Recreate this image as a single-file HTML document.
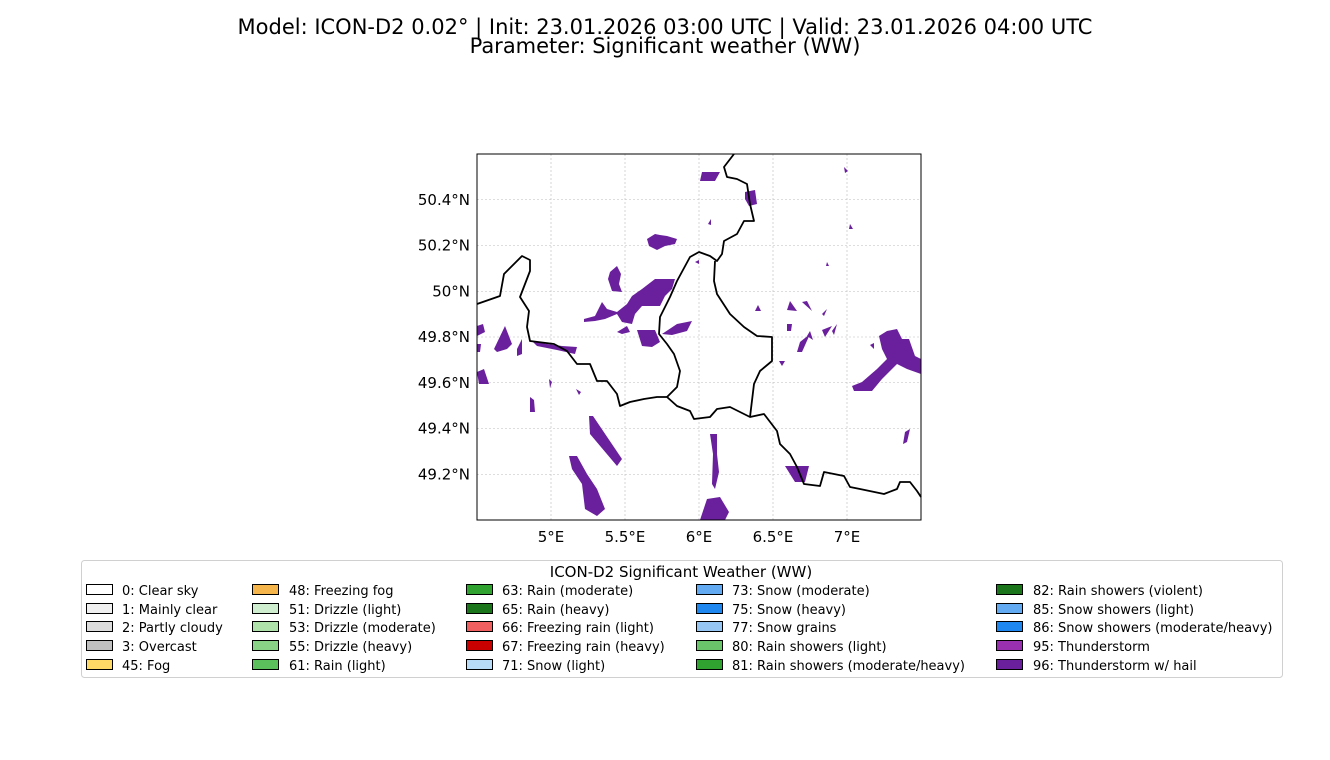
<!DOCTYPE html>
<html><head><meta charset="utf-8"><style>
body{margin:0;background:#fff;font-family:"Liberation Sans","DejaVu Sans",sans-serif;}
#root{position:relative;width:1330px;height:760px;overflow:hidden;}
</style></head><body>
<div id="root">
<svg id="svg" width="1330" height="760" style="position:absolute;left:0;top:0;font-family:'DejaVu Sans','Liberation Sans',sans-serif">
<text x="665" y="34" text-anchor="middle" font-size="21">Model: ICON-D2 0.02° | Init: 23.01.2026 03:00 UTC | Valid: 23.01.2026 04:00 UTC</text>
<text x="665" y="53" text-anchor="middle" font-size="21">Parameter: Significant weather (WW)</text>
<g id="map"></g>
<g id="legend"></g>
</svg>
</div>
<script>
const lonTicks=[5,5.5,6,6.5,7];
const lonLabels=["5°E","5.5°E","6°E","6.5°E","7°E"];
const latTicks=[49.2,49.4,49.6,49.8,50.0,50.2,50.4];
const latLabels=["49.2°N","49.4°N","49.6°N","49.8°N","50°N","50.2°N","50.4°N"];
const borderMain=[[0,150],[23,142],[27,120],[45,102],[53,106],[53,117],[43,143],[52,157],[50,173],[53,187],[77,190],[90,197],[100,210],[113,210],[120,227],[130,227],[140,240],[143,252],[153,248],[167,245],[180,243],[190,243],[200,252],[213,257],[217,265],[233,263],[240,255],[253,253],[273,263],[287,260],[300,277],[303,290],[313,300],[320,313],[327,330],[343,332],[347,318],[367,322],[373,333],[383,335],[407,340],[420,335],[423,328],[433,328],[440,337],[444,343]];
const borderBeLu=[[190,243],[200,233],[203,217],[197,200],[190,190],[182,180],[183,163],[193,143],[200,127],[213,103],[222,98],[233,102],[240,107],[245,100],[247,87],[260,80],[267,67],[277,67],[273,50],[270,30],[260,25],[250,23],[247,13],[257,0]];
const borderLuDe=[[238,107],[237,127],[240,140],[253,160],[267,173],[280,182],[295,183],[295,207],[283,217],[277,230],[273,263]];
const cells=[
[[225,18],[243,18],[238,27],[223,27]],
[[268,38],[278,36],[280,50],[272,52],[268,45]],
[[367,13],[371,17],[368,19]],
[[231,70],[234,65],[234,71]],
[[373,70],[376,75],[372,75]],
[[170,85],[178,80],[183,81],[190,82],[200,85],[198,90],[188,92],[180,96],[172,92]],
[[133,118],[140,112],[144,120],[142,130],[145,138],[135,137],[131,125]],
[[107,165],[118,162],[125,148],[130,155],[140,158],[150,150],[155,142],[165,135],[178,125],[198,125],[195,135],[188,142],[183,152],[165,152],[158,160],[155,170],[145,168],[140,160],[128,165],[118,167],[107,168]],
[[140,178],[150,172],[153,178],[145,180]],
[[160,176],[178,176],[183,188],[175,193],[165,192]],
[[185,180],[200,170],[215,167],[210,177],[195,181]],
[[0,172],[6,170],[8,178],[0,182]],
[[0,190],[4,190],[3,198],[0,198]],
[[0,218],[7,215],[12,230],[2,230]],
[[17,195],[28,172],[35,190],[30,195],[20,198]],
[[40,195],[45,185],[45,200],[40,202]],
[[55,187],[70,190],[85,192],[100,193],[98,200],[80,196],[60,192]],
[[72,225],[75,228],[73,234]],
[[53,243],[57,246],[58,258],[53,258]],
[[99,235],[104,238],[102,241]],
[[112,262],[116,262],[145,305],[140,312],[113,280]],
[[92,302],[100,302],[110,320],[120,335],[128,355],[120,362],[108,355],[105,330],[95,315]],
[[233,280],[240,280],[240,300],[242,318],[238,335],[235,330],[236,300]],
[[230,345],[243,343],[252,358],[248,366],[223,366]],
[[308,312],[332,312],[328,328],[318,328]],
[[402,182],[410,177],[420,175],[425,185],[432,185],[438,202],[444,205],[444,220],[430,215],[420,210],[405,225],[395,237],[377,237],[375,232],[385,228],[400,215],[410,205],[405,195]],
[[428,278],[433,275],[430,288],[426,290]],
[[278,157],[284,157],[281,151]],
[[310,156],[313,147],[320,157]],
[[325,148],[330,147],[335,157]],
[[310,170],[315,170],[314,177],[310,177]],
[[320,198],[323,188],[333,180],[325,198]],
[[330,182],[333,177],[336,186]],
[[345,176],[355,172],[348,183]],
[[355,177],[360,170],[357,181]],
[[345,160],[350,155],[347,162]],
[[302,207],[308,207],[305,212]],
[[393,191],[397,189],[397,195]],
[[350,108],[352,112],[349,112]],
[[218,108],[222,106],[222,110]]
];
const legendItems=[
["0: Clear sky","#ffffff"],["1: Mainly clear","#f0f0f0"],["2: Partly cloudy","#dcdcdc"],["3: Overcast","#c0c0c0"],["45: Fog","#ffd966"],
["48: Freezing fog","#f6b54a"],["51: Drizzle (light)","#cfeed0"],["53: Drizzle (moderate)","#afe2ab"],["55: Drizzle (heavy)","#89d386"],["61: Rain (light)","#5bbf5b"],
["63: Rain (moderate)","#2fa22f"],["65: Rain (heavy)","#1b761b"],["66: Freezing rain (light)","#f06060"],["67: Freezing rain (heavy)","#c80000"],["71: Snow (light)","#b8dcf8"],
["73: Snow (moderate)","#62aaf2"],["75: Snow (heavy)","#1e88f0"],["77: Snow grains","#95c6f4"],["80: Rain showers (light)","#6ac56a"],["81: Rain showers (moderate/heavy)","#2fa22f"],
["82: Rain showers (violent)","#1b761b"],["85: Snow showers (light)","#62aaf2"],["86: Snow showers (moderate/heavy)","#1e88f0"],["95: Thunderstorm","#9830b0"],["96: Thunderstorm w/ hail","#6a1f9c"]
];
const NS="http://www.w3.org/2000/svg";
const X0=477,Y0=154,W=444,H=366;
const lonMin=4.5,lonMax=7.5,latMin=49.0,latMax=50.6;
const xLon=l=>X0+(l-lonMin)/(lonMax-lonMin)*W;
const yLat=l=>Y0+(latMax-l)/(latMax-latMin)*H;
const gx=v=>X0+v, gy=v=>Y0+v;
function mk(tag,attrs,parent){const e=document.createElementNS(NS,tag);for(const k in attrs)e.setAttribute(k,attrs[k]);parent.appendChild(e);return e;}
const map=document.getElementById('map');
const bg=mk('rect',{x:X0,y:Y0,width:W,height:H,fill:'#fff'},map);


lonTicks.forEach((t,i)=>{
 const l=mk('line',{x1:xLon(t),x2:xLon(t),y1:Y0,y2:Y0+H,stroke:'#bbb','stroke-width':0.6,'stroke-dasharray':'2,2'},map);
 
 
 const tx=mk('text',{x:xLon(t),y:Y0+H+22,'text-anchor':'middle','font-size':15},map);tx.textContent=lonLabels[i];
 
 
});
latTicks.forEach((t,i)=>{
 const l=mk('line',{x1:X0,x2:X0+W,y1:yLat(t),y2:yLat(t),stroke:'#bbb','stroke-width':0.6,'stroke-dasharray':'2,2'},map);
 
 
 const tx=mk('text',{x:X0-7,y:yLat(t)+5,'text-anchor':'end','font-size':15},map);tx.textContent=latLabels[i];
 
 
});
cells.forEach(c=>{
 const p=mk('polygon',{points:c.map(q=>gx(q[0])+','+gy(q[1])).join(' '),fill:'#6a1f9c'},map);
 
 
});
[borderMain,borderBeLu,borderLuDe].forEach(b=>{
 const p=mk('polyline',{points:b.map(q=>gx(q[0])+','+gy(q[1])).join(' '),fill:'none',stroke:'#000','stroke-width':1.8,'stroke-linejoin':'round'},map);
 
 
});
const fr=mk('rect',{x:X0,y:Y0,width:W,height:H,fill:'none',stroke:'#000','stroke-width':1},map);


const lg=document.getElementById('legend');
const lb=mk('rect',{x:81.5,y:560.5,width:1201,height:117,rx:3,fill:'#fff',stroke:'#d0d0d0'},lg);


const lt=mk('text',{x:681,y:577,'text-anchor':'middle','font-size':15},lg);lt.textContent='ICON-D2 Significant Weather (WW)';


const colSw=[86,252,466,696,996],colTx=[122,289,502,732,1033],rowY=[590,609,627,646,665];
legendItems.forEach((it,i)=>{
 const c=Math.floor(i/5),r=i%5;
 const s=mk('rect',{x:colSw[c]+0.5,y:rowY[r]-5.5,width:26,height:10,fill:it[1],stroke:'#000','stroke-width':1},lg);
 
 
 const t=mk('text',{x:colTx[c],y:rowY[r]+5,'font-size':13},lg);t.textContent=it[0];
 
 
});
</script>
</body></html>
